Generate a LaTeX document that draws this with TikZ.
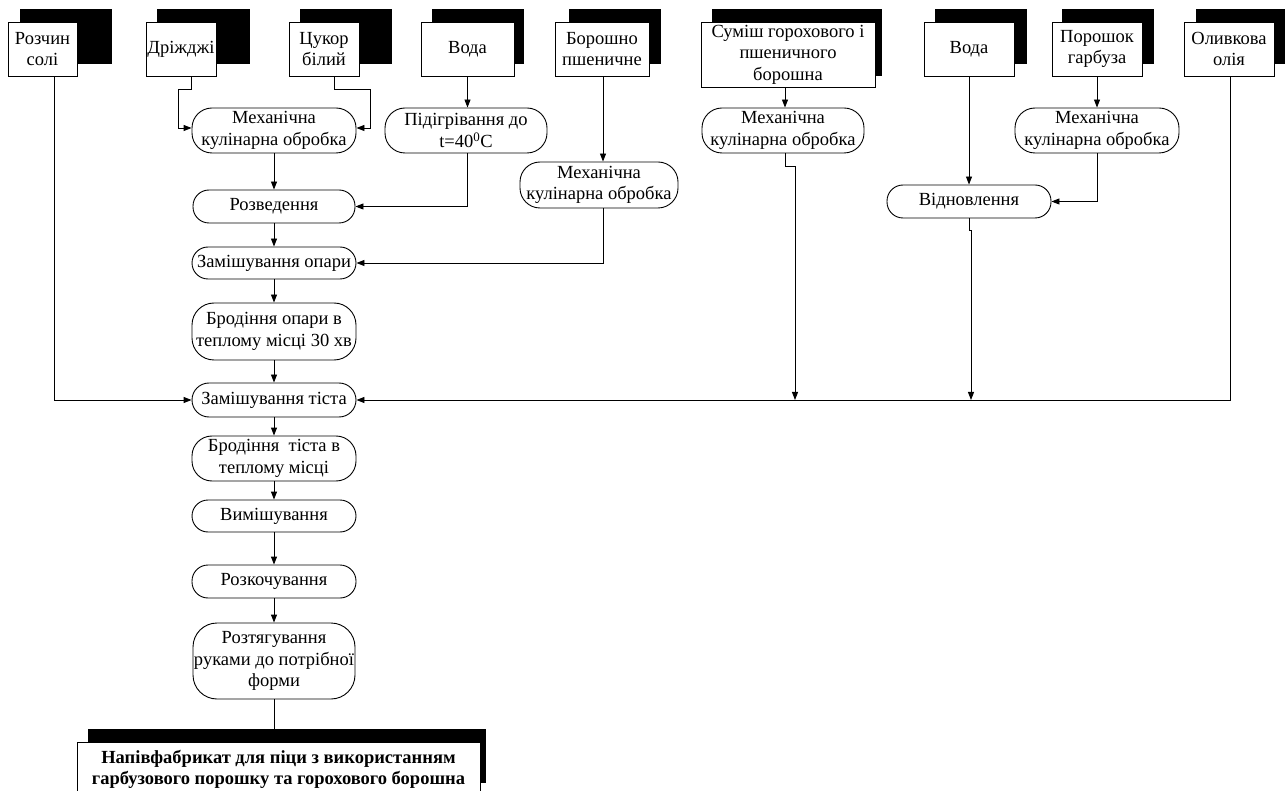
\documentclass[tikz,border=0pt]{standalone}
\usepackage{fontspec}
\setmainfont{Liberation Serif}
\newfontfamily\tnr{Liberation Serif}
\usetikzlibrary{arrows.meta}
\begin{document}
\begin{tikzpicture}[x=1pt,y=-1pt,
  every node/.style={font=\tnr\fontsize{18.5}{21.5}\selectfont, align=center, inner sep=0pt},
  inbox/.style={draw, fill=white, line width=0.9pt},
  shd/.style={fill=black},
  proc/.style={draw, fill=white, line width=0.9pt, rounded corners=#1},
  con/.style={line width=0.9pt},
  arr/.style={con, -{Triangle[length=8pt,width=6pt]}}]
\useasboundingbox (0,0) rectangle (1285,791);
\clip (0,0) rectangle (1285,791);
\fill[white] (0,0) rectangle (1285,791);

% input boxes with shadows
\fill[shd] (20,9) rectangle (112,64);
\node[inbox, minimum width=69pt, minimum height=54pt] (sol) at (42.5,49) {Розчин\\солі};
\fill[shd] (157,9) rectangle (250,64);
\node[inbox, minimum width=70pt, minimum height=54pt] (dri) at (181,49) {Дріжджі};
\fill[shd] (300,9) rectangle (392,64);
\node[inbox, minimum width=70pt, minimum height=54pt] (tsu) at (324,49) {Цукор\\білий};
\fill[shd] (432,9) rectangle (524,64);
\node[inbox, minimum width=93pt, minimum height=54pt] (voda1) at (467.5,49) {Вода};
\fill[shd] (569,9) rectangle (661,64);
\node[inbox, minimum width=94pt, minimum height=54pt] (bor) at (602,49) {Борошно\\пшеничне};
\fill[shd] (712,9) rectangle (882,76);
\node[inbox, minimum width=174pt, minimum height=65pt] (sum) at (788,54.5) {Суміш горохового і\\пшеничного\\борошна};
\fill[shd] (935,9) rectangle (1027,64);
\node[inbox, minimum width=90pt, minimum height=54pt] (voda2) at (969,49) {Вода};
\fill[shd] (1062,9) rectangle (1154,64);
\node[inbox, minimum width=90pt, minimum height=54pt] (por) at (1097,49) {Порошок\\гарбуза};
\fill[shd] (1196,9) rectangle (1286,64);
\node[inbox, minimum width=90pt, minimum height=54pt] (oliv) at (1229,49) {Оливкова\\олія};

% process nodes
\node[proc=20pt, minimum width=164pt, minimum height=45pt] (m1) at (274,130.5) {Механічна\\кулінарна обробка};
\node[proc=20pt, minimum width=162pt, minimum height=45pt] (pod) at (466,130.5) {Підігрівання до\\t=40\textsuperscript{0}C};
\node[proc=20pt, minimum width=158pt, minimum height=46pt] (m2) at (599,185) {Механічна\\кулінарна обробка};
\node[proc=20pt, minimum width=162pt, minimum height=45pt] (m3) at (783,130.5) {Механічна\\кулінарна обробка};
\node[proc=20pt, minimum width=164pt, minimum height=45pt] (m4) at (1097,130.5) {Механічна\\кулінарна обробка};
\node[proc=16pt, minimum width=164pt, minimum height=33pt] (vid) at (969,201.5) {Відновлення};
\node[proc=16pt, minimum width=162pt, minimum height=33pt] (roz) at (274,206.5) {Розведення};
\node[proc=16pt, minimum width=164pt, minimum height=32pt] (zop) at (274,263) {Замішування опари};
\node[proc=22pt, minimum width=164pt, minimum height=57pt] (bop) at (274,331.5) {Бродіння опари в\\теплому місці 30 хв};
\node[proc=17pt, minimum width=164pt, minimum height=34pt] (zti) at (274,400) {Замішування тіста};
\node[proc=20pt, minimum width=164pt, minimum height=45pt] (bti) at (274,458.5) {Бродіння\ \ тіста в\\теплому місці};
\node[proc=16pt, minimum width=164pt, minimum height=32pt] (vym) at (274,516) {Вимішування};
\node[proc=16pt, minimum width=164pt, minimum height=33pt] (rzk) at (274,581.5) {Розкочування};
\node[proc=24pt, minimum width=162pt, minimum height=76pt] (rzt) at (274,661) {Розтягування\\руками до потрібної\\форми};

% final box
\fill[shd] (88,729) rectangle (486,783);
\node[inbox, minimum width=403pt, minimum height=54pt, font=\tnr\bfseries\fontsize{18.5}{21}\selectfont] (fin) at (278.5,769) {Напівфабрикат для піци з використанням\\гарбузового порошку та горохового борошна};

% junction points on the main horizontal line
\coordinate (j1) at (795,400);
\coordinate (j2) at (971,400);

% connectors
\draw[arr] (m1.south) -- (roz.north);
\draw[arr] (roz.south) -- (zop.north);
\draw[arr] (zop.south) -- (bop.north);
\draw[arr] (bop.south) -- (zti.north);
\draw[arr] (zti.south) -- (bti.north);
\draw[arr] (bti.south) -- (vym.north);
\draw[arr] (vym.south) -- (rzk.north);
\draw[arr] (rzk.south) -- (rzt.north);
\draw[con] (rzt.south) -- (rzt.south |- fin.north);

\draw[arr] ([xshift=10pt]dri.south) -- ++(0,13) -- ++(-13,0) |- ([yshift=2.5pt]m1.west);
\draw[arr] ([xshift=10pt]tsu.south) -- ++(0,13) -- ++(36,0) |- ([yshift=2.5pt]m1.east);
\draw[arr] ([xshift=11.5pt]sol.south) |- (zti.west);
\draw[arr] (voda1.south) -- (voda1.south |- pod.north);
\draw[arr] ([xshift=1pt]pod.south) |- (roz.east);
\draw[arr] ([xshift=1pt]bor.south) -- ([xshift=1pt]bor.south |- m2.north);
\draw[arr] ([xshift=4pt]m2.south) |- (zop.east);
\draw[arr] ([xshift=-3pt]sum.south) -- ([xshift=2pt]m3.north);
\draw[arr] ([xshift=2pt]m3.south) -- ++(0,13) -- ++(10,0) -- (j1);
\draw[arr] (voda2.south) -- (vid.north);
\draw[arr] (por.south) -- (m4.north);
\draw[arr] (m4.south) |- (vid.east);
\draw[arr] (vid.south) -- ++(0,12) -- ++(2,0) -- (j2);
\draw[arr] ([xshift=1pt]oliv.south) |- (zti.east);
\end{tikzpicture}
\end{document}
